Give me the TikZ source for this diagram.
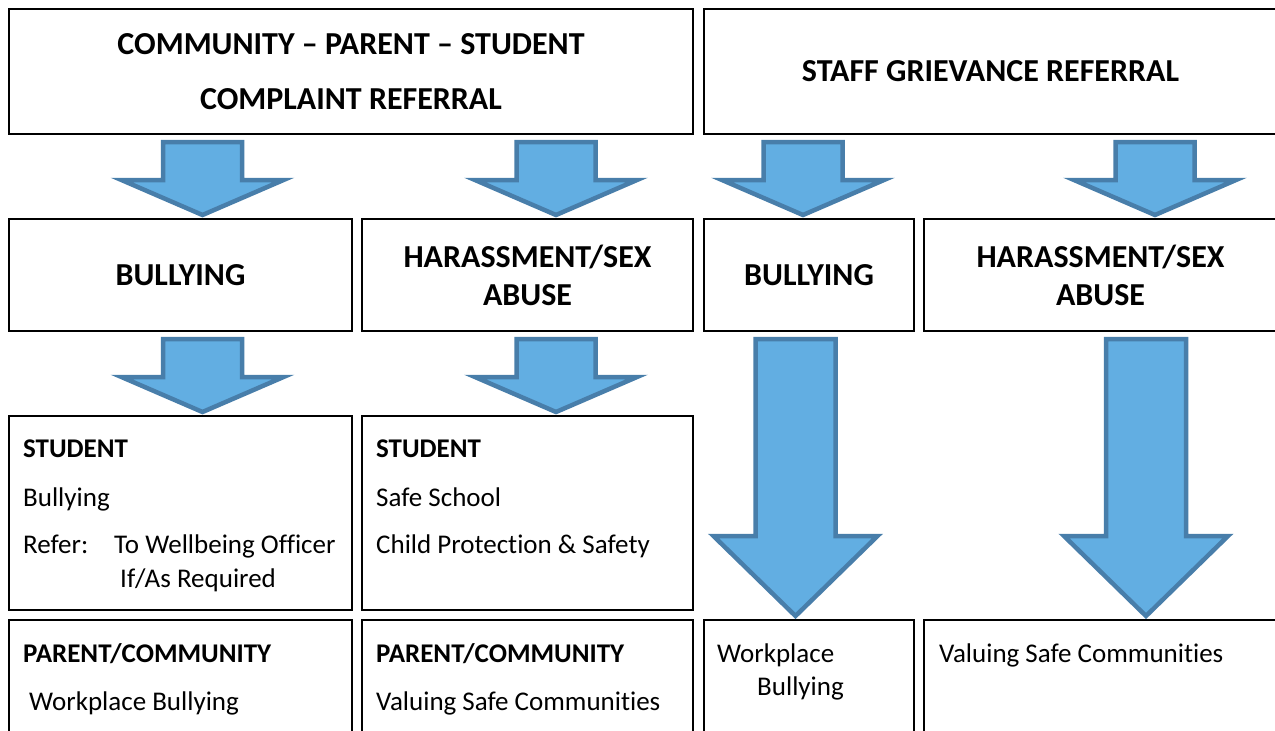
\documentclass[tikz,border=0pt]{standalone}
\usepackage{fontspec}
\setmainfont{Carlito}[Ligatures={TeX,NoCommon}]
\usetikzlibrary{positioning,calc}
\definecolor{arrowfill}{RGB}{98,174,226}
\definecolor{arrowline}{RGB}{72,126,170}

% block arrow: x, from node, to node, shaft half width, head half width, head length
\newcommand{\blockarrow}[6]{%
  \draw[flow] let \p1=(#2.south), \p2=(#3.north) in
    (#1pt-#4pt,\y1-8pt) -- (#1pt+#4pt,\y1-8pt) -- (#1pt+#4pt,\y2+4pt+#6pt)
    -- (#1pt+#5pt,\y2+4pt+#6pt) -- (#1pt,\y2+4pt) -- (#1pt-#5pt,\y2+4pt+#6pt)
    -- (#1pt-#4pt,\y2+4pt+#6pt) -- cycle;}

\begin{document}
\begin{tikzpicture}[x=1pt,y=-1pt,
    box/.style={draw,line width=2pt,inner sep=0pt,outer sep=0pt,anchor=north west},
    head/.style={font=\fontsize{32}{38}\selectfont\bfseries,align=center},
    body/.style={font=\fontsize{27}{32}\selectfont,anchor=base west,inner sep=0pt},
    bodyhead/.style={body,font=\fontsize{27}{32}\selectfont\bfseries},
    flow/.style={fill=arrowfill,draw=arrowline,line width=4.5pt}]
  \useasboundingbox (0,0) rectangle (1275,731);

  % referral boxes
  \node[box,head,minimum width=684pt,minimum height=125pt] (cps) at (9,9)
    {COMMUNITY – PARENT – STUDENT\\[17pt]COMPLAINT REFERRAL};
  \node[box,head,minimum width=573pt,minimum height=125pt] (sgr) at (704,9)
    {STAFF GRIEVANCE REFERRAL};

  % categories
  \node[box,head,minimum width=343pt,minimum height=112pt] (bullyS) at (9,219) {BULLYING};
  \node[box,head,minimum width=331pt,minimum height=112pt] (harassS) at (362,219) {HARASSMENT/SEX\\ABUSE};
  \node[box,head,minimum width=210pt,minimum height=112pt] (bullyT) at (704,219) {BULLYING};
  \node[box,head,minimum width=353pt,minimum height=112pt] (harassT) at (924,219) {HARASSMENT/SEX\\ABUSE};

  % student boxes
  \node[box,minimum width=343pt,minimum height=194pt] (studB) at (9,416) {};
  \node[box,minimum width=331pt,minimum height=194pt] (studH) at (362,416) {};

  % parent / staff boxes
  \node[box,minimum width=343pt,minimum height=130pt] (parB) at (9,620) {};
  \node[box,minimum width=331pt,minimum height=130pt] (parH) at (362,620) {};
  \node[box,minimum width=210pt,minimum height=130pt] (staffB) at (704,620) {};
  \node[box,minimum width=353pt,minimum height=130pt] (staffH) at (924,620) {};

  % texts
  \node[bodyhead] (studBa) at ($(studB.north west)+(14,41)$) {STUDENT};
  \node[body] (studBb) at ($(studB.north west)+(14,90)$) {Bullying};
  \node[body] (studBc) at ($(studB.north west)+(14,137)$) {Refer:};
  \node[body] (studBd) at ($(studB.north west)+(105,137)$) {To Wellbeing Officer};
  \node[body] (studBe) at ($(studB.north west)+(111,171)$) {If/As Required};

  \node[bodyhead] (studHa) at ($(studH.north west)+(14,41)$) {STUDENT};
  \node[body] (studHb) at ($(studH.north west)+(14,90)$) {Safe School};
  \node[body] (studHc) at ($(studH.north west)+(14,137)$) {Child Protection \& Safety};

  \node[bodyhead] (parBa) at ($(parB.north west)+(14,42)$) {PARENT/COMMUNITY};
  \node[body] (parBb) at ($(parB.north west)+(20,90)$) {Workplace Bullying};

  \node[bodyhead] (parHa) at ($(parH.north west)+(14,42)$) {PARENT/COMMUNITY};
  \node[body] (parHb) at ($(parH.north west)+(14,90)$) {Valuing Safe Communities};

  \node[body] (staffBa) at ($(staffB.north west)+(13,42)$) {Workplace};
  \node[body] (staffBb) at ($(staffB.north west)+(53,75)$) {Bullying};

  \node[body] (staffHa) at ($(staffH.north west)+(15,42)$) {Valuing Safe Communities};

  % arrows
  \blockarrow{202.5}{cps}{bullyS}{39.5}{81}{35}
  \blockarrow{556}{cps}{harassS}{39.5}{81}{35}
  \blockarrow{803}{sgr}{bullyT}{39.5}{81}{35}
  \blockarrow{1155}{sgr}{harassT}{39.5}{81}{35}
  \blockarrow{202.5}{bullyS}{studB}{39.5}{81}{35}
  \blockarrow{556}{harassS}{studH}{39.5}{81}{35}
  \blockarrow{795.5}{bullyT}{staffB}{40}{82}{80}
  \blockarrow{1146}{harassT}{staffH}{40}{82}{80}
\end{tikzpicture}
\end{document}
